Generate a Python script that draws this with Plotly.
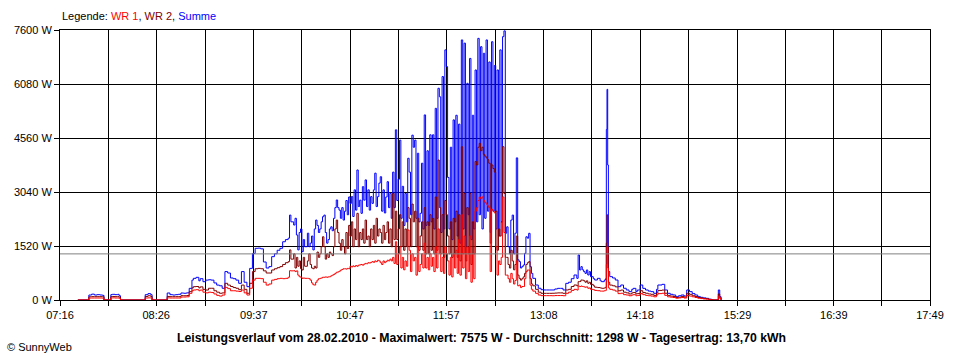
import plotly.graph_objects as go

# ---- data (time in minutes after midnight, power in W) ----
time_min = [
    449, 456, 457, 459, 461, 463, 465, 467, 468, 472, 473, 474, 476, 478, 479, 480,
    497, 498, 500, 502, 503, 513, 514, 516, 518, 520, 522, 524, 526, 528, 530, 532,
    533, 535, 537, 538,
    540, 542, 544, 546, 548, 550, 552, 554, 556, 558, 560, 562, 564, 566, 568, 570,
    572, 574, 576, 578, 580, 582, 584, 586, 588, 590, 592, 594, 596, 598, 600, 602,
    603, 604, 606, 607, 608, 609, 610, 611, 612, 613, 614,
    616, 617, 618, 619, 620, 621, 622, 623, 624, 625, 626, 627, 628, 629, 630, 631,
    632, 633, 634, 635, 636, 637, 638, 639, 640, 641, 642, 643, 644, 645, 646,
    647, 648, 649, 650, 651, 652, 653, 654, 655, 656,
    657, 658, 659, 660, 661, 662, 663, 664, 665, 666,
    667, 668, 669, 670, 671, 672, 673, 674, 675, 676,
    677, 678, 679, 680, 681, 682, 683, 684, 685, 686,
    687, 688, 689, 690, 691, 692, 693, 694, 695, 696,
    697, 698, 699, 700, 701, 702, 703, 704, 705, 706,
    707, 708, 709, 710, 711, 712, 713, 714, 715, 716,
    717, 718, 719, 720, 721, 722, 723, 724, 725, 726,
    727, 728, 729, 730, 731, 732, 733, 734, 735, 736,
    737, 738, 739, 740, 741, 742, 743, 744, 745, 746,
    747, 748, 749, 750, 751, 752, 753, 754, 755, 756,
    757, 758, 759, 760,
    761, 762, 763, 764, 765, 766, 767, 768, 769, 770,
    771, 772, 773, 774, 775, 776, 777, 778, 779, 780,
    782, 784, 786, 788, 790, 792, 794, 796, 798, 800, 802,
    804, 806, 808, 810, 812,
    813, 814, 815, 816, 817, 818, 819, 820, 821, 822,
    824, 825, 827, 829, 830, 832, 833,
    833.5, 834, 834.5, 835,
    836, 838, 840, 842, 844, 846, 848, 850, 852, 853,
    855, 856, 858, 860, 862, 864, 866, 868, 870, 871,
    874, 876, 878, 880, 882, 884, 886, 888, 890, 892,
    894, 896, 898, 900, 902, 904, 906, 908, 910, 911,
    914, 915, 916, 917,
]

summe = [
    0, 0, 140, 165, 140, 150, 141, 130, 0, 0, 150, 160, 150, 160, 120, 0,
    0, 150, 180, 150, 0, 0, 197, 150, 140, 150, 160, 197, 190, 200, 328, 560,
    610, 638, 540, 600,
    515, 560, 570, 560, 480, 420, 400, 330, 800, 760, 620, 600, 560, 470, 800, 500,
    375, 890, 1310, 1455, 1460, 1440, 1070, 900, 940, 1220, 1300, 1400, 1455, 1640, 1700, 1740,
    2390, 2200, 2110, 2300, 1830, 1410, 1900, 2000, 1360, 1700, 1500,
    1880, 1500, 1600, 1800, 1410, 2000, 2250, 2100, 1900, 2000, 2200, 2345, 2390, 1900, 1600, 1700,
    2000, 2060, 1950, 2300, 2600, 2815, 2600, 2530, 2300, 2600, 2250, 2500, 2800, 2400, 2900,
    2720, 2910, 2350, 3100, 2530, 3660, 2630, 2810, 2440, 3190,
    2810, 3380, 2630, 3100, 2530, 2910, 2720, 3100, 3570, 2630,
    2910, 3290, 3470, 2500, 3100, 2450, 2900, 3330, 2600, 3000,
    2300, 3600, 2600, 4790, 2800, 3400, 4500, 2300, 3200, 2100,
    3000, 2200, 3990, 3600, 2400, 4640, 4300, 4500, 2300, 4130,
    2200, 2440, 3850, 2000, 5210, 2100, 4200, 2100, 4650, 2200,
    4650, 2000, 5395, 2300, 5960, 5720, 1900, 6290, 2000, 7040,
    6570, 3450, 2000, 4300, 1700, 5070, 2200, 5200, 1800, 4950,
    1600, 7320, 2000, 7230, 1500, 6100, 2400, 6800, 1700, 5200,
    2000, 6475, 2200, 7365, 2400, 7130, 2000, 6944, 2300, 7320,
    2500, 6700, 1900, 7270, 2500, 6600, 2000, 6475, 1800, 7040,
    2200, 7413, 7575, 1880,
    2060, 1500, 1300, 2250, 2390, 1300, 1880, 4000, 1130, 1080,
    900, 940, 985, 1313, 1780, 1740, 1877, 938, 750, 610,
    422, 330, 290, 282, 282, 282, 282, 310, 328, 328, 282,
    469, 500, 600, 704, 610,
    1267, 845, 938, 850, 798, 750, 845, 704, 798, 657,
    600, 563, 610, 540, 516, 563, 600,
    4800, 5930, 3800, 800,
    657, 620, 563, 375, 422, 330, 282, 235, 300, 328,
    235, 280, 422, 328, 282, 250, 235, 188, 300, 422,
    441, 282, 188, 160, 141, 94, 120, 141, 113, 282,
    235, 180, 141, 94, 75, 60, 47, 25, 10, 0,
    0, 282, 94, 0,
]

wr2 = [
    0, 0, 90, 95, 94, 94, 94, 90, 0, 0, 94, 100, 94, 94, 80, 0,
    0, 100, 120, 100, 0, 0, 100, 94, 94, 94, 94, 122, 120, 125, 235, 340,
    375, 380, 340, 370,
    300, 280, 330, 330, 260, 220, 190, 200, 470, 420, 380, 350, 330, 290, 420, 300,
    190, 470, 800, 880, 890, 880, 820, 760, 760, 845, 880, 910, 940, 1000, 1050, 1080,
    1410, 1150, 1300, 900, 1200, 950, 1100, 880, 845, 1200, 950,
    1100, 1300, 1000, 900, 880, 950, 900, 1350, 1200, 1300, 1500, 1780, 1500, 1150, 1300, 1200,
    1350, 1300, 1250, 1500, 2000, 2250, 1900, 1600, 1400, 1700, 1500, 1300, 1900, 1450, 2100,
    1800, 2200, 1500, 2000, 1700, 2440, 1500, 1900, 1700, 2000,
    1600, 2250, 1700, 1800, 1500, 2000, 1700, 2100, 1600, 2300,
    1800, 2000, 1900, 1600, 2100, 1700, 1900, 2200, 1600, 2000,
    1500, 3000, 1700, 2500, 1700, 2000, 2400, 1500, 2200, 1400,
    2000, 1500, 2600, 2300, 1500, 2700, 2200, 2500, 1500, 2300,
    1400, 1800, 2200, 1400, 2600, 1300, 2200, 1300, 2400, 1400,
    2300, 1300, 2900, 1400, 3940, 2600, 1300, 2400, 1200, 2800,
    2400, 1800, 1300, 2200, 1200, 2300, 1300, 2500, 1200, 2400,
    1100, 4315, 1300, 3000, 1100, 2600, 1300, 3000, 1000, 2200,
    1300, 3900, 3800, 4300, 4410, 4200, 4300, 4100, 4050, 4000,
    3950, 3850, 1600, 3800, 3700, 3600, 2500, 1400, 2000, 1800,
    2200, 4316, 3000, 1200,
    1200, 1000, 900, 1400, 1100, 850, 1000, 1800, 700, 610,
    560, 600, 650, 750, 1000, 1050, 1080, 600, 450, 400,
    300, 220, 188, 188, 188, 188, 190, 195, 200, 200, 188,
    282, 300, 380, 422, 400,
    516, 520, 563, 560, 540, 500, 540, 470, 500, 440,
    400, 360, 350, 340, 330, 340, 360,
    1600, 2400, 1500, 500,
    420, 400, 370, 260, 280, 220, 200, 170, 200, 210,
    170, 180, 260, 210, 190, 170, 160, 130, 200, 270,
    280, 190, 130, 110, 100, 70, 80, 100, 80, 190,
    160, 120, 100, 70, 55, 40, 35, 15, 5, 0,
    0, 170, 60, 0,
]

wr1 = [
    0, 0, 55, 56, 56, 56, 56, 50, 0, 0, 56, 60, 56, 56, 50, 0,
    0, 56, 60, 56, 0, 0, 60, 56, 56, 56, 56, 84, 84, 90, 188, 260,
    282, 290, 260, 280,
    220, 200, 220, 210, 170, 130, 110, 140, 355, 320, 260, 260, 250, 240, 280, 200,
    140, 330, 560, 610, 610, 600, 500, 420, 450, 560, 580, 600, 610, 600, 610, 640,
    825, 820, 825, 800, 820, 700, 655, 640, 610, 620, 610,
    610, 600, 560, 480, 430, 420, 500, 560, 600, 610, 620, 640, 640, 650, 640, 650,
    655, 680, 700, 720, 750, 780, 790, 810, 840, 860, 880, 880, 870, 890, 880,
    950, 930, 960, 940, 970, 950, 980, 990, 1000, 980,
    1010, 1030, 1020, 1050, 1040, 1060, 1080, 1060, 1100, 1080,
    1120, 1100, 1050, 1000, 1100, 1050, 1080, 1120, 1100, 1150,
    1100, 1200, 1030, 1640, 1000, 1300, 1500, 900, 1200, 850,
    1100, 950, 1970, 1400, 800, 1300, 1100, 1200, 700, 1500,
    800, 1000, 1300, 900, 1600, 900, 1200, 850, 1300, 950,
    1200, 800, 1500, 900, 2000, 1300, 800, 1200, 750, 1500,
    1300, 1100, 700, 1200, 650, 1300, 900, 1400, 750, 1700,
    700, 2400, 900, 1800, 600, 1500, 800, 1800, 500, 1300,
    600, 2500, 2600, 2800, 2900, 2850, 2900, 2800, 2750, 2700,
    2650, 2600, 800, 2550, 2500, 2450, 1500, 700, 1100, 1000,
    1200, 2900, 1900, 700,
    700, 600, 500, 750, 600, 450, 550, 1100, 400, 420,
    350, 380, 380, 600, 800, 845, 840, 420, 300, 250,
    188, 140, 122, 122, 122, 122, 120, 125, 125, 125, 120,
    188, 220, 270, 300, 280,
    394, 380, 394, 380, 370, 360, 370, 330, 340, 300,
    290, 270, 262, 250, 250, 262, 270,
    1000, 1500, 900, 340,
    300, 280, 250, 180, 190, 150, 140, 120, 140, 150,
    120, 130, 180, 150, 130, 120, 110, 90, 140, 180,
    190, 130, 90, 80, 70, 50, 60, 70, 55, 130,
    110, 90, 70, 50, 40, 30, 25, 10, 5, 0,
    0, 110, 40, 0,
]

x_labels = ["07:16", "08:26", "09:37", "10:47", "11:57", "13:08",
            "14:18", "15:29", "16:39", "17:49"]
y_ticks = [0, 1520, 3040, 4560, 6080, 7600]
avg_w = 1298
max_w = 7575
day_kwh = "13,70"
date_str = "28.02.2010"

# ---- axes helpers ----
def to_min(s):
    h, m = s.split(":")
    return int(h) * 60 + int(m)

label_pos = [to_min(s) for s in x_labels]
mid_pos = [(a + b) / 2 for a, b in zip(label_pos[:-1], label_pos[1:])]

FONT = "Liberation Sans, Arial, sans-serif"

fig = go.Figure()
for name, vals, col in [("Summe", summe, "#0000FF"),
                        ("WR 2", wr2, "#800000"),
                        ("WR 1", wr1, "#FF0000")]:
    fig.add_trace(go.Scatter(x=time_min, y=vals, mode="lines", name=name,
                             line=dict(color=col, width=1, shape="hv"),
                             showlegend=False, hoverinfo="skip"))

fig.add_hline(y=avg_w, line=dict(color="#808080", width=1))

fig.update_layout(
    width=960, height=360,
    margin=dict(l=60, r=30, t=30, b=60),
    paper_bgcolor="white", plot_bgcolor="white",
    font=dict(family=FONT, size=11, color="black"),
    xaxis=dict(
        range=[label_pos[0], label_pos[-1]],
        tickmode="array", tickvals=label_pos, ticktext=x_labels,
        ticks="outside", ticklen=5, tickcolor="black", tickwidth=1,
        showgrid=True, gridcolor="black", gridwidth=1,
        minor=dict(tickmode="array", tickvals=mid_pos, ticks="outside",
                   ticklen=5, tickcolor="black", showgrid=True,
                   gridcolor="black", gridwidth=1),
        showline=True, linecolor="black", linewidth=1, mirror=True,
        zeroline=False, tickfont=dict(size=11),
    ),
    yaxis=dict(
        range=[0, 7600],
        tickmode="array", tickvals=y_ticks,
        ticktext=[f"{v} W" for v in y_ticks],
        ticks="outside", ticklen=5, tickcolor="black", tickwidth=1,
        showgrid=True, gridcolor="black", gridwidth=1,
        showline=True, linecolor="black", linewidth=1, mirror=True,
        zeroline=False, tickfont=dict(size=11),
    ),
)

legend_txt = ('Legende: <span style="color:#FF0000">WR 1</span>, '
              '<span style="color:#800000">WR 2</span>, '
              '<span style="color:#0000FF">Summe</span>')
fig.add_annotation(text=legend_txt, xref="paper", yref="paper",
                   x=0, y=1 + 14 / 270, xanchor="left", yanchor="middle",
                   showarrow=False, font=dict(size=11, color="black"))

title_txt = (f"<b>Leistungsverlauf vom {date_str} - Maximalwert: {max_w} W - "
             f"Durchschnitt: {avg_w} W - Tagesertrag: {day_kwh} kWh</b>")
fig.add_annotation(text=title_txt, xref="paper", yref="paper",
                   x=(481 - 60) / 870, y=-38 / 270, xanchor="center",
                   yanchor="middle", showarrow=False,
                   font=dict(size=12.25, color="black"))

fig.add_annotation(text="© SunnyWeb", xref="paper", yref="paper",
                   x=(5 - 60) / 870, y=-47 / 270, xanchor="left",
                   yanchor="middle", showarrow=False,
                   font=dict(size=11, color="black"))

fig.write_html("out.html",
               config={"displayModeBar": False},
               post_script="document.body.style.margin='0';"
                           "document.body.style.overflow='hidden';")
